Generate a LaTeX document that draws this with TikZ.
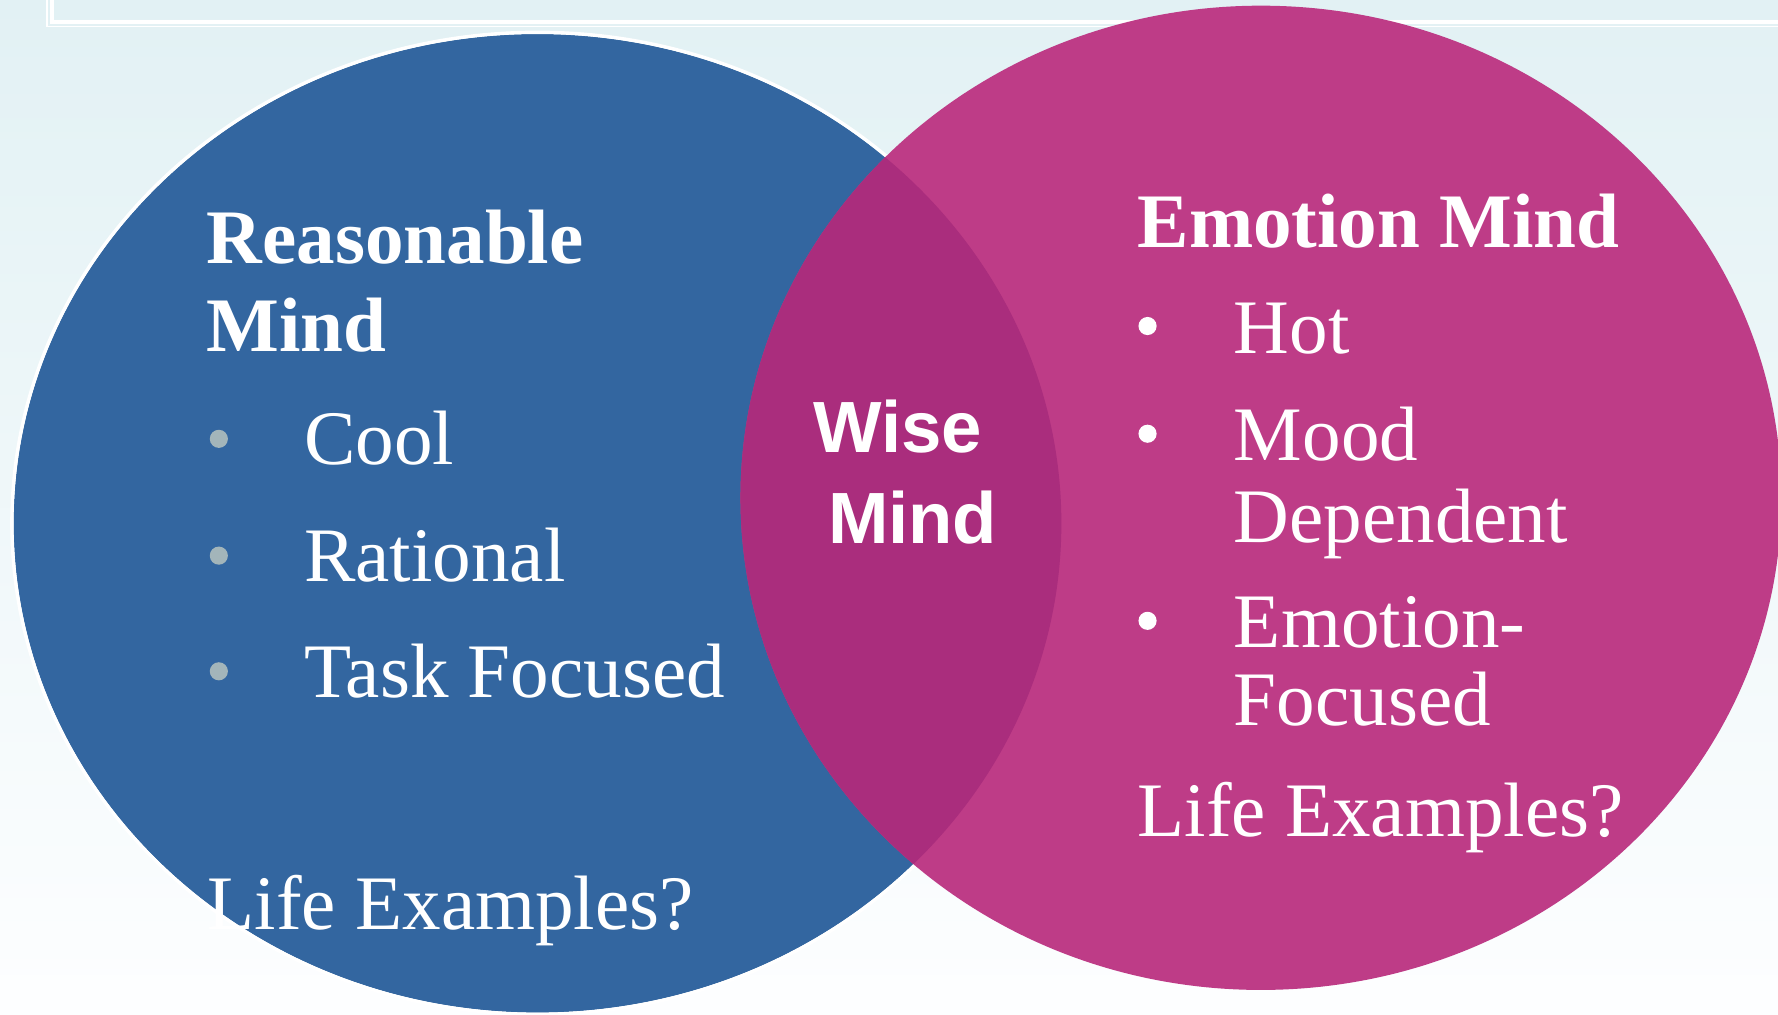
\documentclass[tikz,border=0pt]{standalone}
\usepackage{fontspec}
\setmainfont{Liberation Serif}
\newfontfamily\wisefont{Liberation Sans}
\definecolor{bgtop}{HTML}{E2F1F4}
\definecolor{bgbot}{HTML}{FDFEFF}
\definecolor{rblue}{HTML}{3366A0}
\definecolor{epink}{HTML}{BE3C87}
\definecolor{wpurple}{HTML}{AA2D7D}
\definecolor{gbullet}{HTML}{A3B5BA}
\tikzset{
  body/.style={anchor=base west, inner sep=0pt, text=white, font=\fontsize{68pt}{80pt}\selectfont},
  head/.style={anchor=base west, inner sep=0pt, text=white, font=\fontsize{68pt}{80pt}\selectfont\bfseries},
  wise/.style={anchor=base west, inner sep=0pt, text=white, font=\fontsize{64pt}{80pt}\selectfont\wisefont\bfseries},
  bul/.style={circle, inner sep=0pt, minimum size=16pt, fill=#1},
}
\begin{document}
\begin{tikzpicture}[x=1pt,y=-1pt]
\useasboundingbox (0,0) rectangle (1568,895);
% background
\shade[top color=bgtop, bottom color=bgbot, shading angle=0] (0,0) rectangle (1568,895);
\fill[bgbot] (0,860) rectangle (1568,895);
% frame
\draw[white, line width=1pt] (41.5,-30) rectangle (1620,23);
\draw[white, line width=3.5pt] (46,-30) rectangle (1620,19);
% ellipses
\coordinate (cb) at (474,461.5);
\coordinate (cp) at (1112,439);
\fill[rblue] (cb) ellipse [x radius=462, y radius=431.5];
\draw[white, line width=3pt] (cb) ellipse [x radius=463.5, y radius=433];
\fill[epink] (cp) ellipse [x radius=459, y radius=434];
\begin{scope}
  \clip (cp) ellipse [x radius=459, y radius=434];
  \fill[wpurple] (cb) ellipse [x radius=462, y radius=431.5];
\end{scope}
% left texts
\node[head] (rm1) at (182,232) {Reasonable};
\node[head] (rm2) at (182,310) {Mind};
\node[bul=gbullet] (lb1) at (193,387) {};
\node[bul=gbullet] (lb2) at (193,490) {};
\node[bul=gbullet] (lb3) at (193,592) {};
\node[body] (cool) at (268,410) {Cool};
\node[body] (rat) at (268,513) {Rational};
\node[body] (task) at (268,615) {Task Focused};
\node[body] (lifel) at (183,820) {Life Examples?};
% wise mind
\node[wise] (wm1) at (717,399) {Wise};
\node[wise] (wm2) at (730,479) {Mind};
% right texts
\node[head] (em) at (1003,218) {Emotion Mind};
\node[bul=white] (rb1) at (1012,287.5) {};
\node[bul=white] (rb2) at (1012,382.5) {};
\node[bul=white] (rb3) at (1012,547.5) {};
\node[body] (hot) at (1088,312) {Hot};
\node[body] (mood) at (1088,406) {Mood};
\node[body] (dep) at (1088,478) {Dependent};
\node[body] (emo) at (1088,571) {Emotion-};
\node[body] (foc) at (1088,640) {Focused};
\node[body] (lifer) at (1003,738) {Life Examples?};
\end{tikzpicture}
\end{document}
